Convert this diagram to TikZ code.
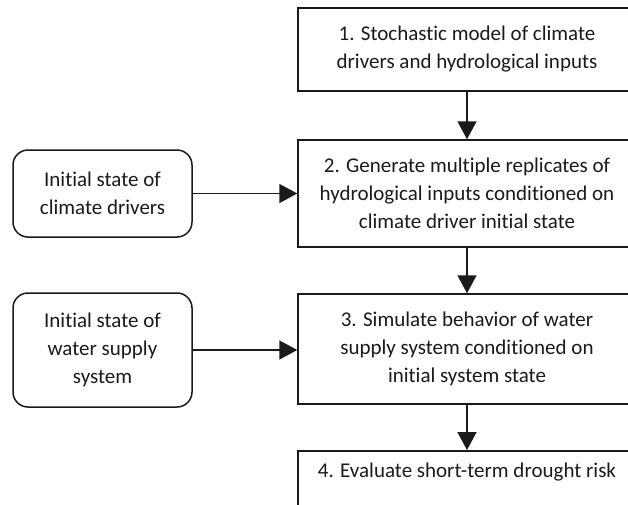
\documentclass[tikz,border=0pt]{standalone}
\usepackage{fontspec}
\setmainfont[Ligatures=NoCommon]{Carlito}
\usetikzlibrary{arrows.meta}
\definecolor{ink}{HTML}{1A1A1A}
\tikzset{
  box/.style={draw=ink, line width=1.5pt, rectangle, align=center, text=ink,
    font=\fontsize{21}{28}\selectfont, inner sep=0pt},
  rbox/.style={box, rounded corners=15pt},
  conn/.style={draw=ink, line width=1.5pt, -{Triangle[length=18pt,width=19pt]}},
}
\begin{document}
\begin{tikzpicture}[x=1pt,y=-1pt]
\useasboundingbox (0,0) rectangle (628,504);
\clip (0,0) rectangle (628,504);
\node[box, minimum width=338, minimum height=83] (b1) at (467,49.5)
  {1. Stochastic model of climate\\drivers and hydrological inputs};
\node[box, minimum width=338, minimum height=107] (b2) at (467,193.5)
  {2. Generate multiple replicates of\\hydrological inputs conditioned on\\climate driver initial state};
\node[box, minimum width=338, minimum height=110] (b3) at (467,349)
  {3. Simulate behavior of water\\supply system conditioned on\\initial system state};
\node[box, minimum width=338, minimum height=90, anchor=north] (b4) at (467,450) {};
\node[box, draw=none] (t4) at (467,472) {4. Evaluate short-term drought risk};
\node[rbox, minimum width=179, minimum height=87] (r1) at (102.5,193.5)
  {Initial state of\\climate drivers};
\node[rbox, minimum width=179, minimum height=114] (r2) at (102.5,350)
  {Initial state of\\water supply\\system};
\draw[conn] (b1) -- (b2);
\draw[conn] (b2) -- (b3);
\draw[conn] (b3) -- (b4);
\draw[conn] (r1) -- (r1 -| b2.west);
\draw[conn] (r2) -- (r2 -| b3.west);
\end{tikzpicture}
\end{document}
